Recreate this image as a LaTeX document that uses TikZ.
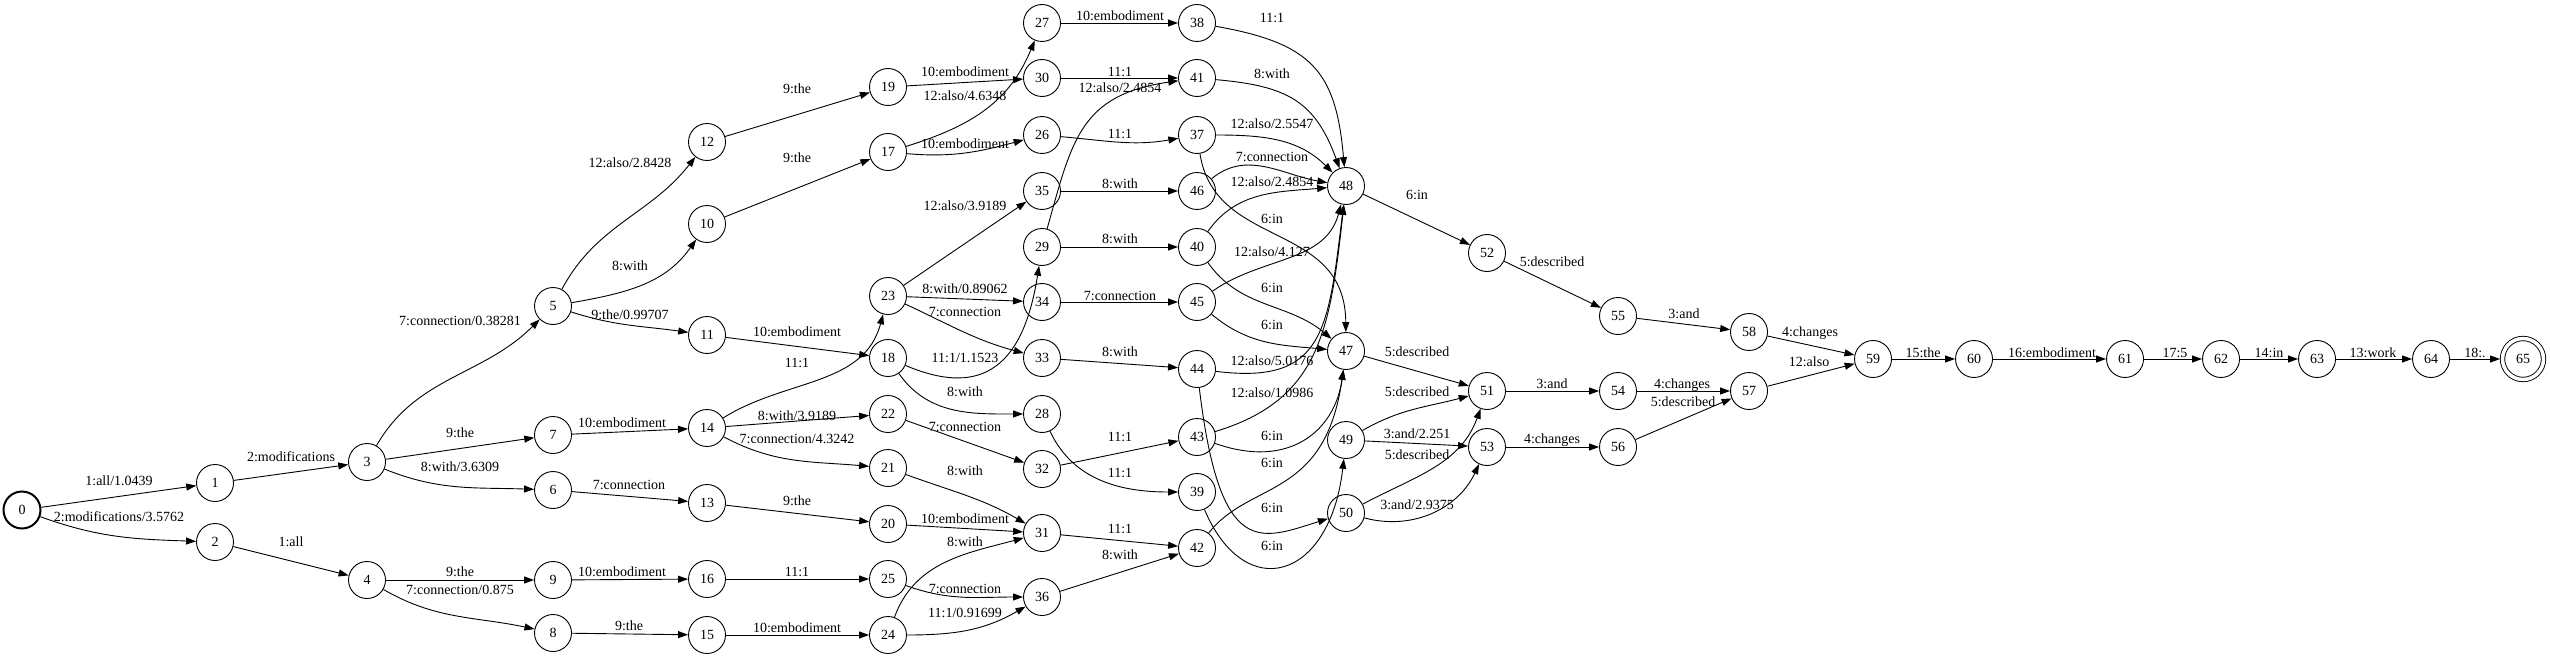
\documentclass[tikz,border=0pt]{standalone}
\usepackage{fontspec}
\setmainfont{Liberation Serif}
\usetikzlibrary{arrows.meta}

\begin{document}
\begin{tikzpicture}[
  x=1pt, y=1pt,
  font=\fontsize{14pt}{16pt}\selectfont,
  state/.style={draw, circle, minimum size=37pt, inner sep=0pt, line width=0.9pt},
  start/.style={state, line width=2pt},
  final/.style={state, double, double distance=3.5pt, minimum size=41pt, outer sep=2.5pt},
  edge/.style={line width=0.9pt, -{Triangle[length=10pt,width=7pt]}},
  lab/.style={inner sep=0pt}
]
\useasboundingbox (0,-658) rectangle (2550,0);

% States
\node[start] (s0) at (22,-510) {0};
\node[state] (s1) at (215,-483) {1};
\node[state] (s2) at (215,-542) {2};
\node[state] (s3) at (367,-462) {3};
\node[state] (s4) at (367,-580) {4};
\node[state] (s5) at (553,-306) {5};
\node[state] (s7) at (553,-435) {7};
\node[state] (s6) at (553,-490) {6};
\node[state] (s9) at (553,-580) {9};
\node[state] (s8) at (553,-633) {8};
\node[state] (s12) at (707,-142) {12};
\node[state] (s10) at (707,-224) {10};
\node[state] (s11) at (707,-335) {11};
\node[state] (s14) at (707,-428) {14};
\node[state] (s13) at (707,-503) {13};
\node[state] (s16) at (707,-579) {16};
\node[state] (s15) at (707,-635) {15};
\node[state] (s19) at (888,-87) {19};
\node[state] (s17) at (888,-152) {17};
\node[state] (s23) at (888,-296) {23};
\node[state] (s18) at (888,-358) {18};
\node[state] (s22) at (888,-414) {22};
\node[state] (s21) at (888,-468) {21};
\node[state] (s20) at (888,-524) {20};
\node[state] (s25) at (888,-579) {25};
\node[state] (s24) at (888,-635) {24};
\node[state] (s27) at (1042,-23) {27};
\node[state] (s30) at (1042,-78) {30};
\node[state] (s26) at (1042,-135) {26};
\node[state] (s35) at (1042,-191) {35};
\node[state] (s29) at (1042,-247) {29};
\node[state] (s34) at (1042,-302) {34};
\node[state] (s33) at (1042,-358) {33};
\node[state] (s28) at (1042,-414) {28};
\node[state] (s32) at (1042,-469) {32};
\node[state] (s31) at (1042,-533) {31};
\node[state] (s36) at (1042,-597) {36};
\node[state] (s38) at (1197,-23) {38};
\node[state] (s41) at (1197,-78) {41};
\node[state] (s37) at (1197,-135) {37};
\node[state] (s46) at (1197,-191) {46};
\node[state] (s40) at (1197,-247) {40};
\node[state] (s45) at (1197,-302) {45};
\node[state] (s44) at (1197,-369) {44};
\node[state] (s43) at (1197,-437) {43};
\node[state] (s39) at (1197,-492) {39};
\node[state] (s42) at (1197,-548) {42};
\node[state] (s48) at (1346,-186) {48};
\node[state] (s47) at (1346,-351) {47};
\node[state] (s49) at (1346,-440) {49};
\node[state] (s50) at (1346,-513) {50};
\node[state] (s52) at (1487,-253) {52};
\node[state] (s51) at (1487,-391) {51};
\node[state] (s53) at (1487,-447) {53};
\node[state] (s55) at (1618,-316) {55};
\node[state] (s54) at (1618,-391) {54};
\node[state] (s56) at (1618,-447) {56};
\node[state] (s58) at (1749,-332) {58};
\node[state] (s57) at (1749,-391) {57};
\node[state] (s59) at (1873,-359) {59};
\node[state] (s60) at (1974,-359) {60};
\node[state] (s61) at (2125,-359) {61};
\node[state] (s62) at (2221,-359) {62};
\node[state] (s63) at (2317,-359) {63};
\node[state] (s64) at (2431,-359) {64};
\node[final] (s65) at (2523,-359) {65};

% Arcs from 0 to the 5..9 column
\draw[edge] (s0) -- (s1);
\draw[edge] (s0) to[out=-20,in=178] (s2);
\draw[edge] (s1) -- (s3);
\draw[edge] (s2) -- (s4);
\draw[edge] (s3) to[out=60,in=225] (s5);
\draw[edge] (s3) -- (s7);
\draw[edge] (s3) to[out=-22,in=178] (s6);
\draw[edge] (s4) -- (s9);
\draw[edge] (s4) to[out=-30,in=168] (s8);

% Arcs into the 10..25 columns
\draw[edge] (s5) to[out=62,in=232] (s12);
\draw[edge] (s5) to[out=10,in=235] (s10);
\draw[edge] (s5) to[out=-18,in=172] (s11);
\draw[edge] (s7) -- (s14);
\draw[edge] (s6) -- (s13);
\draw[edge] (s9) -- (s16);
\draw[edge] (s8) -- (s15);
\draw[edge] (s12) -- (s19);
\draw[edge] (s10) -- (s17);
\draw[edge] (s11) -- (s18);
\draw[edge] (s14) to[out=32,in=255] (s23);
\draw[edge] (s14) -- (s22);
\draw[edge] (s14) to[out=-28,in=175] (s21);
\draw[edge] (s13) -- (s20);
\draw[edge] (s16) -- (s25);
\draw[edge] (s15) -- (s24);

% Arcs into the 26..36 column
\draw[edge] (s19) -- (s30);
\draw[edge] (s17) .. controls (975,-125) and (1010,-100) .. (s27);
\draw[edge] (s17) to[out=-5,in=195] (s26);
\draw[edge] (s23) -- (s35);
\draw[edge] (s23) -- (s34);
\draw[edge] (s23) to[out=-25,in=165] (s33);
\draw[edge] (s18) .. controls (975,-395) and (1022,-375) .. (s29);
\draw[edge] (s18) to[out=-55,in=180] (s28);
\draw[edge] (s22) -- (s32);
\draw[edge] (s21) to[out=-20,in=150] (s31);
\draw[edge] (s20) -- (s31);
\draw[edge] (s24) to[out=70,in=195] (s31);
\draw[edge] (s25) to[out=-20,in=180] (s36);
\draw[edge] (s24) to[out=0,in=210] (s36);

% Arcs into the 37..46 column
\draw[edge] (s27) -- (s38);
\draw[edge] (s30) -- (s41);
\draw[edge] (s29) .. controls (1072,-140) and (1080,-95) .. (s41);
\draw[edge] (s26) to[out=-5,in=190] (s37);
\draw[edge] (s35) -- (s46);
\draw[edge] (s29) -- (s40);
\draw[edge] (s34) -- (s45);
\draw[edge] (s33) -- (s44);
\draw[edge] (s32) -- (s43);
\draw[edge] (s28) to[out=-65,in=180] (s39);
\draw[edge] (s31) -- (s42);
\draw[edge] (s36) -- (s42);

% Arcs into 47..50
\draw[edge] (s38) to[out=-10,in=95,looseness=1.3] (s48);
\draw[edge] (s41) to[out=-5,in=110,looseness=1.2] (s48);
\draw[edge] (s37) to[out=0,in=135] (s48);
\draw[edge] (s46) to[out=40,in=170] (s48);
\draw[edge] (s40) to[out=55,in=185] (s48);
\draw[edge] (s37) .. controls (1215,-250) and (1345,-220) .. (s47);
\draw[edge] (s45) to[out=35,in=255] (s48);
\draw[edge] (s40) to[out=-55,in=140] (s47);
\draw[edge] (s45) to[out=-40,in=175] (s47);
\draw[edge] (s44) .. controls (1325,-385) and (1328,-330) .. (s48);
\draw[edge] (s43) .. controls (1320,-400) and (1330,-330) .. (s48);
\draw[edge] (s43) .. controls (1290,-470) and (1335,-430) .. (s47);
\draw[edge] (s42) .. controls (1250,-480) and (1325,-500) .. (s47);
\draw[edge] (s44) .. controls (1220,-560) and (1260,-540) .. (s50);
\draw[edge] (s39) .. controls (1245,-605) and (1330,-580) .. (s49);

% Arcs to the end
\draw[edge] (s48) -- (s52);
\draw[edge] (s47) -- (s51);
\draw[edge] (s49) to[out=30,in=195] (s51);
\draw[edge] (s49) -- (s53);
\draw[edge] (s50) to[out=28,in=250] (s51);
\draw[edge] (s50) to[out=-15,in=245] (s53);
\draw[edge] (s52) -- (s55);
\draw[edge] (s55) -- (s58);
\draw[edge] (s51) -- (s54);
\draw[edge] (s53) -- (s56);
\draw[edge] (s54) -- (s57);
\draw[edge] (s56) -- (s57);
\draw[edge] (s58) -- (s59);
\draw[edge] (s57) -- (s59);
\draw[edge] (s59) -- (s60);
\draw[edge] (s60) -- (s61);
\draw[edge] (s61) -- (s62);
\draw[edge] (s62) -- (s63);
\draw[edge] (s63) -- (s64);
\draw[edge] (s64) -- (s65);

% Arc labels
\node[lab] (l0-1) at (119,-481) {1:all/1.0439};
\node[lab] (l0-2) at (119,-517) {2:modifications/3.5762};
\node[lab] (l1-3) at (291,-457) {2:modifications};
\node[lab] (l2-4) at (291,-542) {1:all};
\node[lab] (l3-5) at (460,-321) {7:connection/0.38281};
\node[lab] (l3-7) at (460,-433) {9:the};
\node[lab] (l3-6) at (460,-467) {8:with/3.6309};
\node[lab] (l4-9) at (460,-572) {9:the};
\node[lab] (l4-8) at (460,-590) {7:connection/0.875};
\node[lab] (l5-12) at (630,-163) {12:also/2.8428};
\node[lab] (l5-10) at (630,-266) {8:with};
\node[lab] (l5-11) at (630,-315) {9:the/0.99707};
\node[lab] (l7-14) at (622,-423) {10:embodiment};
\node[lab] (l6-13) at (629,-485) {7:connection};
\node[lab] (l9-16) at (622,-572) {10:embodiment};
\node[lab] (l8-15) at (629,-626) {9:the};
\node[lab] (l12-19) at (797,-89) {9:the};
\node[lab] (l10-17) at (797,-158) {9:the};
\node[lab] (l11-18) at (797,-332) {10:embodiment};
\node[lab] (l14-23) at (797,-363) {11:1};
\node[lab] (l14-22) at (797,-416) {8:with/3.9189};
\node[lab] (l14-21) at (797,-439) {7:connection/4.3242};
\node[lab] (l13-20) at (797,-501) {9:the};
\node[lab] (l16-25) at (797,-572) {11:1};
\node[lab] (l15-24) at (797,-628) {10:embodiment};
\node[lab] (l19-30) at (965,-72) {10:embodiment};
\node[lab] (l17-27) at (965,-96) {12:also/4.6348};
\node[lab] (l17-26) at (965,-144) {10:embodiment};
\node[lab] (l23-35) at (965,-206) {12:also/3.9189};
\node[lab] (l23-34) at (965,-289) {8:with/0.89062};
\node[lab] (l23-33) at (965,-312) {7:connection};
\node[lab] (l18-29) at (965,-358) {11:1/1.1523};
\node[lab] (l18-28) at (965,-392) {8:with};
\node[lab] (l22-32) at (965,-427) {7:connection};
\node[lab] (l21-31) at (965,-471) {8:with};
\node[lab] (l20-31) at (965,-519) {10:embodiment};
\node[lab] (l24-31) at (965,-542) {8:with};
\node[lab] (l25-36) at (965,-589) {7:connection};
\node[lab] (l24-36) at (965,-613) {11:1/0.91699};
\node[lab] (l27-38) at (1120,-16) {10:embodiment};
\node[lab] (l30-41) at (1120,-72) {11:1};
\node[lab] (l29-41) at (1120,-88) {12:also/2.4854};
\node[lab] (l26-37) at (1120,-134) {11:1};
\node[lab] (l35-46) at (1120,-184) {8:with};
\node[lab] (l29-40) at (1120,-239) {8:with};
\node[lab] (l34-45) at (1120,-296) {7:connection};
\node[lab] (l33-44) at (1120,-352) {8:with};
\node[lab] (l32-43) at (1120,-437) {11:1};
\node[lab] (l28-39) at (1120,-473) {11:1};
\node[lab] (l31-42) at (1120,-529) {11:1};
\node[lab] (l36-42) at (1120,-555) {8:with};
\node[lab] (l38-48) at (1272,-18) {11:1};
\node[lab] (l41-48) at (1272,-74) {8:with};
\node[lab] (l37-48) at (1272,-124) {12:also/2.5547};
\node[lab] (l46-48) at (1272,-157) {7:connection};
\node[lab] (l40-48) at (1272,-182) {12:also/2.4854};
\node[lab] (l37-47) at (1272,-219) {6:in};
\node[lab] (l45-48) at (1272,-252) {12:also/4.127};
\node[lab] (l40-47) at (1272,-288) {6:in};
\node[lab] (l45-47) at (1272,-325) {6:in};
\node[lab] (l44-48) at (1272,-361) {12:also/5.0176};
\node[lab] (l43-48) at (1272,-393) {12:also/1.0986};
\node[lab] (l43-47) at (1272,-436) {6:in};
\node[lab] (l42-47) at (1272,-463) {6:in};
\node[lab] (l44-50) at (1272,-508) {6:in};
\node[lab] (l39-49) at (1272,-546) {6:in};
\node[lab] (l48-52) at (1417,-195) {6:in};
\node[lab] (l47-51) at (1417,-352) {5:described};
\node[lab] (l49-51) at (1417,-392) {5:described};
\node[lab] (l49-53) at (1417,-434) {3:and/2.251};
\node[lab] (l50-51) at (1417,-455) {5:described};
\node[lab] (l50-53) at (1417,-505) {3:and/2.9375};
\node[lab] (l52-55) at (1552,-262) {5:described};
\node[lab] (l51-54) at (1552,-384) {3:and};
\node[lab] (l53-56) at (1552,-440) {4:changes};
\node[lab] (l55-58) at (1684,-314) {3:and};
\node[lab] (l54-57) at (1682,-385) {4:changes};
\node[lab] (l56-57) at (1683,-402) {5:described};
\node[lab] (l58-59) at (1810,-333) {4:changes};
\node[lab] (l57-59) at (1809,-362) {12:also};
\node[lab] (l59-60) at (1923,-353) {15:the};
\node[lab] (l60-61) at (2052,-353) {16:embodiment};
\node[lab] (l61-62) at (2175,-353) {17:5};
\node[lab] (l62-63) at (2269,-353) {14:in};
\node[lab] (l63-64) at (2373,-353) {13:work};
\node[lab] (l64-65) at (2475,-353) {18:.};
\end{tikzpicture}
\end{document}
